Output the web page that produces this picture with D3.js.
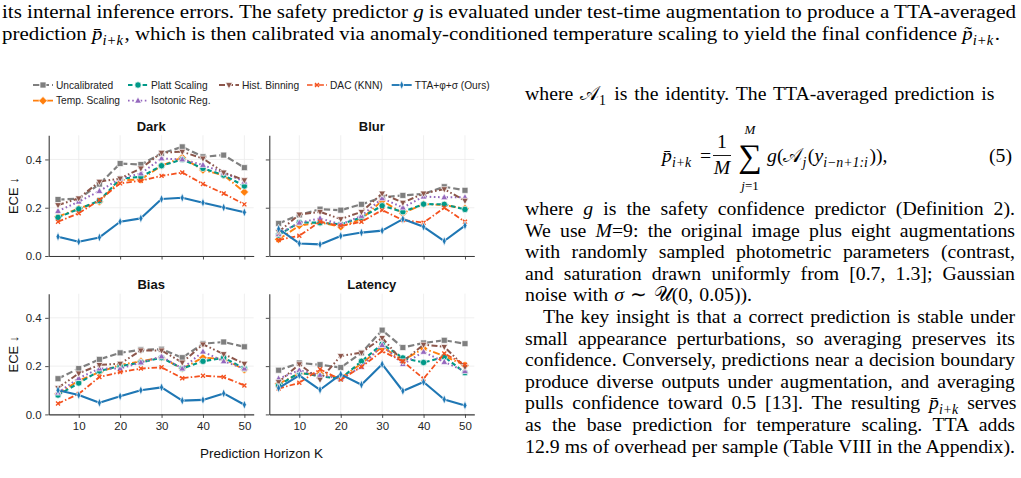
<!DOCTYPE html>
<html>
<head>
<meta charset="utf-8">
<script src="https://cdn.jsdelivr.net/npm/d3@7"></script>
<style>
  body { margin: 0; background: #fff; }
  svg { display: block; }
</style>
</head>
<body>
<svg id="page" width="1021" height="478"></svg>
<script>
// ---- data ----
const horizons = [5, 10, 15, 20, 25, 30, 35, 40, 45, 50]
const xTicks = [10, 20, 30, 40, 50]
const yTicks = [0.0, 0.2, 0.4]
const panelNames = ['Dark', 'Blur', 'Bias', 'Latency']
const methods = ['Uncalibrated', 'Temp. Scaling', 'Platt Scaling', 'Isotonic Reg.', 'Hist. Binning', 'DAC (KNN)', 'TTA+φ+σ (Ours)']

// rows follow the order of `methods`
const darkEce = [
  [0.234, 0.237, 0.298, 0.383, 0.379, 0.425, 0.452, 0.411, 0.418, 0.366],
  [0.163, 0.197, 0.225, 0.314, 0.317, 0.374, 0.408, 0.356, 0.335, 0.265],
  [0.160, 0.195, 0.229, 0.320, 0.328, 0.374, 0.400, 0.363, 0.335, 0.290],
  [0.186, 0.225, 0.269, 0.321, 0.342, 0.404, 0.400, 0.377, 0.345, 0.308],
  [0.211, 0.239, 0.308, 0.321, 0.363, 0.428, 0.432, 0.404, 0.346, 0.314],
  [0.142, 0.177, 0.232, 0.301, 0.312, 0.332, 0.346, 0.298, 0.259, 0.214],
  [0.080, 0.059, 0.077, 0.142, 0.156, 0.236, 0.241, 0.221, 0.201, 0.181]
]
const blurEce = [
  [0.135, 0.170, 0.194, 0.190, 0.214, 0.243, 0.251, 0.257, 0.287, 0.272],
  [0.069, 0.126, 0.139, 0.121, 0.153, 0.229, 0.177, 0.215, 0.211, 0.197],
  [0.087, 0.139, 0.138, 0.131, 0.160, 0.208, 0.183, 0.215, 0.214, 0.193],
  [0.091, 0.138, 0.156, 0.131, 0.166, 0.239, 0.201, 0.246, 0.243, 0.243],
  [0.100, 0.172, 0.183, 0.153, 0.183, 0.259, 0.221, 0.259, 0.277, 0.229],
  [0.066, 0.084, 0.142, 0.124, 0.142, 0.190, 0.149, 0.138, 0.200, 0.142],
  [0.112, 0.052, 0.048, 0.083, 0.097, 0.105, 0.153, 0.121, 0.062, 0.126]
]
const biasEce = [
  [0.148, 0.190, 0.228, 0.255, 0.268, 0.270, 0.235, 0.293, 0.300, 0.280],
  [0.085, 0.140, 0.175, 0.205, 0.220, 0.235, 0.190, 0.235, 0.230, 0.185],
  [0.080, 0.130, 0.180, 0.200, 0.215, 0.235, 0.190, 0.220, 0.235, 0.190],
  [0.090, 0.150, 0.190, 0.190, 0.215, 0.240, 0.190, 0.260, 0.220, 0.190],
  [0.110, 0.170, 0.205, 0.210, 0.265, 0.265, 0.215, 0.290, 0.250, 0.210],
  [0.045, 0.085, 0.155, 0.175, 0.190, 0.195, 0.150, 0.160, 0.155, 0.120],
  [0.100, 0.080, 0.048, 0.075, 0.100, 0.112, 0.057, 0.060, 0.087, 0.040]
]
const latencyEce = [
  [0.183, 0.213, 0.206, 0.194, 0.255, 0.349, 0.277, 0.296, 0.307, 0.293],
  [0.127, 0.169, 0.169, 0.151, 0.210, 0.280, 0.224, 0.273, 0.242, 0.203],
  [0.120, 0.173, 0.158, 0.148, 0.220, 0.291, 0.234, 0.215, 0.238, 0.173],
  [0.148, 0.183, 0.162, 0.148, 0.197, 0.287, 0.208, 0.259, 0.217, 0.179],
  [0.134, 0.208, 0.144, 0.242, 0.256, 0.317, 0.220, 0.289, 0.280, 0.197],
  [0.107, 0.131, 0.187, 0.144, 0.197, 0.262, 0.220, 0.148, 0.252, 0.206],
  [0.109, 0.162, 0.102, 0.166, 0.123, 0.208, 0.097, 0.134, 0.062, 0.037]
]
const panelValues = [darkEce, blurEce, biasEce, latencyEce]

// ---- styles ----
const styles = [
  { color: '#7f7f7f', dash: '6.5,3', width: 2.2, marker: 'square' },
  { color: '#ff7f0e', dash: '7,2.5,1.5,2.5', width: 1.9, marker: 'diamond' },
  { color: '#009988', dash: '4.5,2.8', width: 2.1, marker: 'circle' },
  { color: '#9467bd', dash: '1.6,2.6', width: 2, marker: 'triangleUp' },
  { color: '#8c564b', dash: '6,2.4,1.6,2.4,1.6,2.4', width: 2, marker: 'triangleDown' },
  { color: '#f4511e', dash: '5.5,2.2,1.5,2.2', width: 1.8, marker: 'x' },
  { color: '#1f77b4', dash: null, width: 2.1, marker: 'thinDiamond' }
]

let svg = d3.select('#page')
svg.append('rect').attr('width', 1021).attr('height', 478).attr('fill', '#fff')

let chartFont = "'Liberation Sans', Arial, sans-serif"
let serif = "'Liberation Serif', 'Times New Roman', serif"

let colX = [48.7, 269.3]
let rowY = [135.3, 293.7]
let pw = 205
let ph = 120.7

let xScale = d3.scaleLinear().domain([2.75, 52.25]).range([0, pw])
let yScale = d3.scaleLinear().domain([0, 0.5]).range([ph, 0])

function markerPath(type) {
  switch (type) {
    case 'square': return 'M-3,-3H3V3H-3Z'
    case 'diamond': return 'M0,-4.2L4.2,0L0,4.2L-4.2,0Z'
    case 'circle': return d3.symbol(d3.symbolCircle, 32)()
    case 'triangleUp': return 'M0,-3.8L3.4,2.4H-3.4Z'
    case 'triangleDown': return 'M0,3.8L3.4,-2.4H-3.4Z'
    case 'x': return 'M-2,-2L2,2M-2,2L2,-2'
    case 'thinDiamond': return 'M0,-4.6L2,0L0,4.6L-2,0Z'
  }
}

function drawMarker(g, type, color) {
  let p = g.append('path').attr('d', markerPath(type))
  if (type === 'x') {
    p.attr('fill', 'none').attr('stroke', color).attr('stroke-width', 1.3)
  } else {
    p.attr('fill', color).attr('stroke', '#fff').attr('stroke-width', 0.7)
  }
  return p
}

panelNames.forEach(function(name, p) {
  let col = p % 2
  let row = Math.floor(p / 2)
  let g = svg.append('g')
    .attr('transform', 'translate(' + colX[col] + ',' + rowY[row] + ')')
    .attr('font-family', chartFont)

  // grid
  g.selectAll('.vgrid').data(xTicks).enter().append('line')
    .attr('x1', d => xScale(d)).attr('x2', d => xScale(d))
    .attr('y1', 0).attr('y2', ph)
    .attr('stroke', '#ebebeb').attr('stroke-width', 0.8)
  g.selectAll('.hgrid').data(yTicks).enter().append('line')
    .attr('x1', 0).attr('x2', pw)
    .attr('y1', d => yScale(d)).attr('y2', d => yScale(d))
    .attr('stroke', '#ebebeb').attr('stroke-width', 0.8)

  // axes
  let yAxis = d3.axisLeft(yScale).tickValues(yTicks).tickSizeInner(3.5).tickSizeOuter(0).tickPadding(3.5)
    .tickFormat(col === 0 ? d3.format('.1f') : () => '')
  let xAxis = d3.axisBottom(xScale).tickValues(xTicks).tickSizeInner(3.5).tickSizeOuter(0).tickPadding(3.5)
    .tickFormat(row === 1 ? d3.format('d') : () => '')
  g.append('g').attr('class', 'axis y-axis').call(yAxis)
  g.append('g').attr('class', 'axis x-axis').attr('transform', 'translate(0,' + ph + ')').call(xAxis)
  g.selectAll('.axis .domain').attr('stroke', '#3a3a3a').attr('stroke-width', 1.1)
  g.selectAll('.axis .tick line').attr('stroke', '#3a3a3a').attr('stroke-width', 0.9)
  g.selectAll('.axis text').attr('font-family', chartFont).attr('font-size', 11.5).attr('fill', '#262626')

  // title
  g.append('text')
    .attr('x', pw / 2).attr('y', -4.5)
    .attr('text-anchor', 'middle')
    .attr('font-size', 13).attr('font-weight', 'bold').attr('fill', '#111')
    .text(name)

  let line = d3.line().x(d => xScale(d.k)).y(d => yScale(d.v))

  methods.forEach(function(m, i) {
    let st = styles[i]
    let pts = horizons.map((k, j) => ({ k: k, v: panelValues[p][i][j] }))
    g.append('path')
      .datum(pts)
      .attr('d', line)
      .attr('fill', 'none')
      .attr('stroke', st.color)
      .attr('stroke-width', st.width)
      .attr('stroke-dasharray', st.dash)
      .attr('stroke-linejoin', 'round')
    pts.forEach(function(d) {
      drawMarker(g.append('g').attr('transform', 'translate(' + xScale(d.k) + ',' + yScale(d.v) + ')'), st.marker, st.color)
    })
  })
})

// axis labels
svg.append('text')
  .attr('transform', 'translate(18,' + (rowY[0] + ph / 2) + ') rotate(-90)')
  .attr('text-anchor', 'middle').attr('font-family', chartFont).attr('font-size', 13).attr('fill', '#111')
  .text('ECE ↓')
svg.append('text')
  .attr('transform', 'translate(18,' + (rowY[1] + ph / 2) + ') rotate(-90)')
  .attr('text-anchor', 'middle').attr('font-family', chartFont).attr('font-size', 13).attr('fill', '#111')
  .text('ECE ↓')
svg.append('text')
  .attr('x', 261.5).attr('y', 458)
  .attr('text-anchor', 'middle').attr('font-family', chartFont).attr('font-size', 13.5).attr('fill', '#111')
  .text('Prediction Horizon K')

// legend, 5 columns filled column-wise
let legendCols = [33, 128, 219, 307, 391.7]
let legendRows = [85, 100.7]
methods.forEach(function(m, i) {
  let col = Math.floor(i / 2)
  let row = i % 2
  if (i >= 4) { col = i - 2; row = 0 }
  let st = styles[i]
  let lg = svg.append('g')
    .attr('transform', 'translate(' + legendCols[col] + ',' + legendRows[row] + ')')
  lg.append('line')
    .attr('x1', 0).attr('x2', 20).attr('y1', 0).attr('y2', 0)
    .attr('stroke', st.color).attr('stroke-width', st.width * 0.9)
    .attr('stroke-dasharray', st.dash)
  drawMarker(lg.append('g').attr('transform', 'translate(10,0)'), st.marker, st.color)
  lg.append('text')
    .attr('x', 23).attr('y', 3.6)
    .attr('font-family', chartFont).attr('font-size', 10.2).attr('fill', '#222')
    .text(m)
})

// ---- surrounding paper text ----
function richLine(x, y, segs, size, width, mode) {
  let t = svg.append('text')
    .attr('x', x).attr('y', y)
    .attr('font-family', serif).attr('font-size', size).attr('fill', '#000')
  let shift = 0
  segs.forEach(function(s) {
    let str = typeof s === 'string' ? s : s[0]
    let kind = typeof s === 'string' ? '' : s[1]
    let ts = t.append('tspan').text(str)
    let sub = kind === 'sub' || kind === 'subi'
    let want = sub ? size * 0.25 : 0
    if (want !== shift) {
      ts.attr('dy', want - shift)
      if (!sub) ts.attr('dx', 1.5)
      shift = want
    }
    if (kind === 'i' || kind === 'subi') ts.attr('font-style', 'italic')
    if (sub) ts.attr('font-size', size * 0.7)
  })
  if (width) {
    if (mode === 'squeeze') {
      t.attr('textLength', width).attr('lengthAdjust', 'spacingAndGlyphs')
    } else {
      let natural = t.node().getComputedTextLength()
      let spaces = (t.text().match(/ /g) || []).length
      t.style('word-spacing', ((width - natural) / spaces) + 'px')
    }
  }
  return t
}

richLine(2, 18, ['its internal inference errors. The safety predictor ', ['g', 'i'],
  ' is evaluated under test-time augmentation to produce a TTA-averaged'], 19.5, 1014, 'squeeze')
richLine(2, 40, ['prediction ', ['p̄', 'i'], ['i+k', 'subi'],
  ', which is then calibrated via anomaly-conditioned temperature scaling to yield the final confidence ',
  ['p̃', 'i'], ['i+k', 'subi'], '.'], 19.5, 998, 'squeeze')

let left = 525
let colW = 490

// size the body font so the tightest justified line still fits the column
let probe = richLine(left, -50, ['confidence. Conversely, predictions near a decision boundary'], 18)
let fs = 18 * 486 / probe.node().getComputedTextLength()
probe.remove()
richLine(left, 100, ['where ', ['𝒜', ''], ['1', 'sub'], ' is the identity. The TTA-averaged prediction is'], fs, 468)

// equation (5)
let eqBase = 162
richLine(662, eqBase, [['p̄', 'i'], ['i+k', 'subi']], fs)
svg.append('text').attr('x', 700).attr('y', eqBase).attr('font-family', serif).attr('font-size', fs).text('=')
svg.append('text').attr('x', 722).attr('y', 148).attr('text-anchor', 'middle')
  .attr('font-family', serif).attr('font-size', fs).text('1')
svg.append('line').attr('x1', 713).attr('x2', 731).attr('y1', 155.5).attr('y2', 155.5)
  .attr('stroke', '#000').attr('stroke-width', 0.9)
svg.append('text').attr('x', 722).attr('y', 174).attr('text-anchor', 'middle')
  .attr('font-family', serif).attr('font-size', fs).attr('font-style', 'italic').text('M')
svg.append('text').attr('x', 750).attr('y', 167).attr('text-anchor', 'middle')
  .attr('font-family', serif).attr('font-size', 33).text('∑')
svg.append('text').attr('x', 750).attr('y', 134).attr('text-anchor', 'middle')
  .attr('font-family', serif).attr('font-size', 13).attr('font-style', 'italic').text('M')
let jt = svg.append('text').attr('x', 750).attr('y', 190).attr('text-anchor', 'middle')
  .attr('font-family', serif).attr('font-size', 13)
jt.append('tspan').attr('font-style', 'italic').text('j')
jt.append('tspan').text('=1')
richLine(767, eqBase, [['g', 'i'], '(𝒜', ['j', 'subi'], '(', ['y', 'i'], ['i−n+1:i', 'subi'], ')),'], fs)
svg.append('text').attr('x', 1012).attr('y', eqBase).attr('text-anchor', 'end')
  .attr('font-family', serif).attr('font-size', fs).text('(5)')

let bodyLines = [
  [['where ', ['g', 'i'], ' is the safety confidence predictor (Definition 2).'], 0, colW],
  [['We use ', ['M', 'i'], '=9: the original image plus eight augmentations'], 0, colW],
  [['with randomly sampled photometric parameters (contrast,'], 0, colW],
  [['and saturation drawn uniformly from [0.7, 1.3]; Gaussian'], 0, colW],
  [['noise with ', ['σ', 'i'], ' ∼ 𝒰(0, 0.05)).'], 0, 227],
  [['The key insight is that a correct prediction is stable under'], 18, colW - 18],
  [['small appearance perturbations, so averaging preserves its'], 0, colW],
  [['confidence. Conversely, predictions near a decision boundary'], 0, colW],
  [['produce diverse outputs under augmentation, and averaging'], 0, colW],
  [['pulls confidence toward 0.5 [13]. The resulting ', ['p̄', 'i'], ['i+k ', 'subi'], 'serves'], 0, colW],
  [['as the base prediction for temperature scaling. TTA adds'], 0, colW],
  [['12.9 ms of overhead per sample (Table VIII in the Appendix).'], 0, colW]
]
bodyLines.forEach(function(l, i) {
  richLine(left + l[1], 215 + i * 21.6, l[0], fs, l[2])
})
</script>
</body>
</html>
